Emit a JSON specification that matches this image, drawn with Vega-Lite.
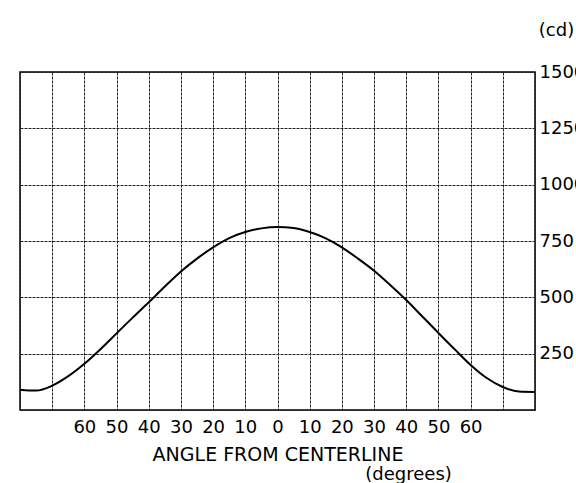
{
  "$schema": "https://vega.github.io/schema/vega-lite/v6.json",
  "autosize": "none",
  "width": 515,
  "height": 338,
  "padding": {"left": 20, "top": 72, "right": 41, "bottom": 73},
  "background": "white",
  "config": {
    "font": "DejaVu Sans",
    "view": {"stroke": "#000", "strokeWidth": 1.5},
    "axis": {
      "labelFont": "DejaVu Sans",
      "titleFont": "DejaVu Sans",
      "labelColor": "#000",
      "titleColor": "#000",
      "labelFontSize": 18,
      "titleFontSize": 19,
      "titleFontWeight": "normal",
      "domain": false,
      "ticks": false,
      "gridColor": "#222",
      "gridWidth": 1,
      "gridDash": [3, 1],
      "gridOpacity": 1
    },
    "title": {"font": "DejaVu Sans", "fontSize": 18, "fontWeight": "normal", "color": "#000"}
  },
  "title": {"text": "(degrees)", "orient": "bottom", "anchor": "end", "dx": -133, "offset": 2},
  "data": {
    "values": [
      {"angle": -80, "cd": 90},
      {"angle": -75, "cd": 86},
      {"angle": -70, "cd": 108},
      {"angle": -65, "cd": 150},
      {"angle": -60, "cd": 205},
      {"angle": -55, "cd": 270},
      {"angle": -50, "cd": 340},
      {"angle": -45, "cd": 410},
      {"angle": -40, "cd": 478},
      {"angle": -35, "cd": 548},
      {"angle": -30, "cd": 615},
      {"angle": -25, "cd": 672},
      {"angle": -20, "cd": 722},
      {"angle": -15, "cd": 763},
      {"angle": -10, "cd": 790},
      {"angle": -5, "cd": 806},
      {"angle": 0, "cd": 812},
      {"angle": 5, "cd": 808},
      {"angle": 10, "cd": 790},
      {"angle": 15, "cd": 762},
      {"angle": 20, "cd": 722},
      {"angle": 25, "cd": 672},
      {"angle": 30, "cd": 618},
      {"angle": 35, "cd": 555},
      {"angle": 40, "cd": 488},
      {"angle": 45, "cd": 415},
      {"angle": 50, "cd": 342},
      {"angle": 55, "cd": 270},
      {"angle": 60, "cd": 200},
      {"angle": 65, "cd": 142},
      {"angle": 70, "cd": 102},
      {"angle": 75, "cd": 82},
      {"angle": 80, "cd": 80}
    ]
  },
  "mark": {"type": "line", "color": "#000", "strokeWidth": 2, "interpolate": "monotone"},
  "encoding": {
    "x": {
      "field": "angle",
      "type": "quantitative",
      "scale": {"domain": [-80, 80], "nice": false, "zero": false},
      "axis": {
        "values": [-80, -70, -60, -50, -40, -30, -20, -10, 0, 10, 20, 30, 40, 50, 60, 70, 80],
        "labelExpr": "abs(datum.value) > 60 ? '' : format(abs(datum.value), 'd')",
        "labelPadding": 8,
        "labelFlush": false,
        "labelOverlap": false,
        "title": "ANGLE FROM CENTERLINE",
        "titlePadding": 9
      }
    },
    "y": {
      "field": "cd",
      "type": "quantitative",
      "scale": {"domain": [0, 1500], "nice": false},
      "axis": {
        "orient": "right",
        "values": [0, 250, 500, 750, 1000, 1250, 1500],
        "labelExpr": "datum.value == 0 ? '' : datum.label",
        "format": "d",
        "labelPadding": 4,
        "labelFlush": false,
        "labelOverlap": false,
        "title": "(cd)",
        "titleFontSize": 18,
        "titleAngle": 0,
        "titleAlign": "center",
        "titleBaseline": "middle",
        "titleX": 21,
        "titleY": -42
      }
    }
  }
}
